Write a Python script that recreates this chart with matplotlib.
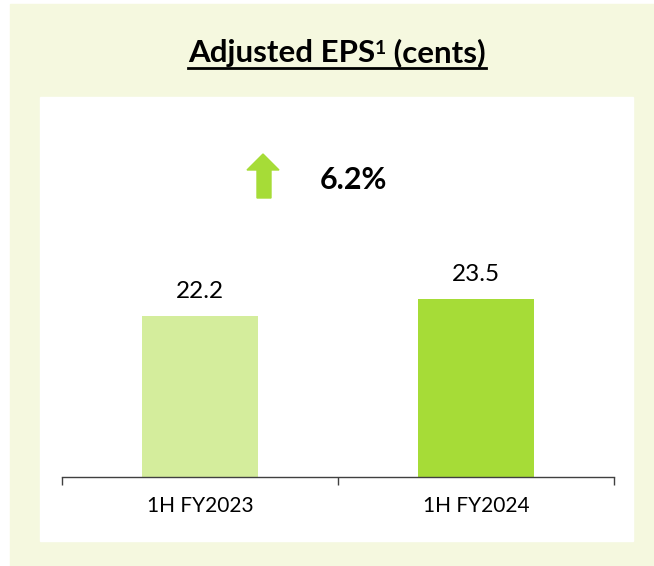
import matplotlib
matplotlib.use("Agg")
import matplotlib.pyplot as plt
from matplotlib.patches import Rectangle, Polygon
from matplotlib.lines import Line2D

plt.rcParams['font.family'] = ['Lato', 'DejaVu Sans']

# data
periods = ['1H FY2023', '1H FY2024']
eps = [22.2, 23.5]
bar_colors = ['#D4ED9C', '#A6DC37']
growth_label = '6.2%'

W, H = 654, 566
fig = plt.figure(figsize=(W / 100, H / 100), dpi=100)
fig.patch.set_facecolor('white')

def fx(px):
    return px / W

def fy(py):
    return 1 - py / H

# backgrounds
fig.patches.append(Rectangle((fx(10), 0), fx(644), 1 - 4 / H,
                             transform=fig.transFigure, color='#F5F8DF', zorder=-2))
fig.patches.append(Rectangle((fx(40), fy(541)), fx(593), (541 - 97) / H,
                             transform=fig.transFigure, color='white', zorder=-1))

# axes
ax = fig.add_axes([fx(62), fy(477), fx(552), (477 - 98) / H])
ax.patch.set_alpha(0)
x = range(len(periods))
bars = ax.bar(x, eps, width=0.42, color=bar_colors, zorder=2)
ax.set_xlim(-0.5, 1.5)
ax.set_ylim(9.9, 9.9 + 379 / 13.077)

for b, v in zip(bars, eps):
    ax.annotate(f'{v:.1f}', (b.get_x() + b.get_width() / 2, v),
                xytext=(0, 13), textcoords='offset points',
                ha='center', va='baseline', fontsize=17.5)

for s in ['top', 'right', 'left']:
    ax.spines[s].set_visible(False)
ax.spines['bottom'].set_color('#404040')
ax.spines['bottom'].set_linewidth(1)
ax.set_yticks([])
ax.set_xticks(list(x))
ax.set_xticklabels(periods, fontsize=15)
ax.tick_params(axis='x', which='major', length=0, pad=14)
ax.set_xticks([-0.5, 0.5, 1.5], minor=True)
ax.tick_params(axis='x', which='minor', length=5.5, width=1, color='#404040')

# growth arrow
arrow = Polygon([(fx(257), fy(198)), (fx(271), fy(198)), (fx(271), fy(170)),
                 (fx(279), fy(170)), (fx(263), fy(154)), (fx(247), fy(170)),
                 (fx(257), fy(170))],
                closed=True, transform=fig.transFigure, color=bar_colors[1])
fig.patches.append(arrow)
fig.text(fx(353), fy(180), growth_label, ha='center', va='center',
         fontsize=22, fontweight='bold')

# title with superscript and underline
fig.canvas.draw()
r = fig.canvas.get_renderer()
parts = [('Adjusted EPS', 22.5, 0), ('1', 14, 8), (' (cents)', 22.5, 0)]
objs = []
for s, size, rise in parts:
    t = fig.text(0, fy(62) + rise / H, s, fontsize=size, fontweight='bold',
                 ha='left', va='baseline')
    objs.append(t)
widths = [t.get_window_extent(r).width for t in objs]
total = sum(widths)
xpos = 337 - total / 2
for t, w in zip(objs, widths):
    t.set_x(fx(xpos))
    xpos += w
fig.lines.append(Line2D([fx(337 - total / 2), fx(337 + total / 2)], [fy(68), fy(68)],
                        transform=fig.transFigure, color='black', linewidth=2))

fig.savefig('out.png', dpi=100)
